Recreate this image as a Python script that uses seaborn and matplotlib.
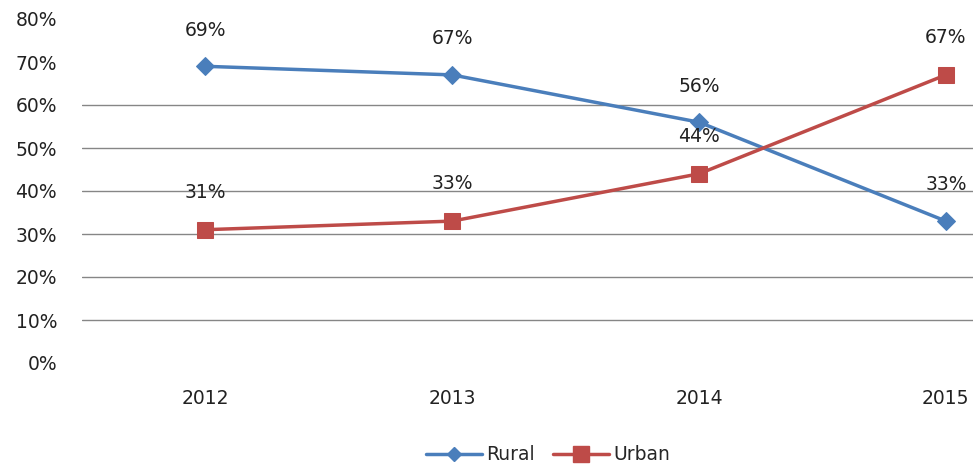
import matplotlib
matplotlib.use("Agg")
import matplotlib.pyplot as plt
import seaborn as sns
import pandas as pd
from matplotlib.lines import Line2D

years = ["2012", "2013", "2014", "2015"]
rural = [69, 67, 56, 33]
urban = [31, 33, 44, 67]
y_ticks = [0, 10, 20, 30, 40, 50, 60, 70, 80]

blue = "#4a7ebb"
red = "#be4b48"
text_color = "#222222"
fs = 13.5

sns.set_theme(style="white")
plt.rcParams["font.family"] = ["DejaVu Sans"]

df = pd.DataFrame({
    "pos": list(range(len(years))) * 2,
    "value": rural + urban,
    "series": ["Rural"] * len(years) + ["Urban"] * len(years),
})

fig = plt.figure(figsize=(9.73, 4.68), dpi=100)
ax = fig.add_axes([82 / 973, 1 - 363 / 468, 1 - 82 / 973, (363 - 19) / 468])

# horizontal gridlines
for t in y_ticks[1:7]:
    ax.axhline(t, color="#868686", lw=1.0, zorder=0)

sns.lineplot(data=df[df.series == "Rural"], x="pos", y="value", ax=ax,
             color=blue, lw=2.5, marker="D", markersize=9,
             markeredgecolor=blue, legend=False, zorder=3)
sns.lineplot(data=df[df.series == "Urban"], x="pos", y="value", ax=ax,
             color=red, lw=2.5, marker="s", markersize=12,
             markeredgecolor=red, legend=False, zorder=3)

for i, v in enumerate(rural):
    ax.annotate(f"{v}%", (i, v), xytext=(0, 26), textcoords="offset points",
                ha="center", va="center", fontsize=fs, color=text_color)
for i, v in enumerate(urban):
    ax.annotate(f"{v}%", (i, v), xytext=(0, 27), textcoords="offset points",
                ha="center", va="center", fontsize=fs, color=text_color)

ax.set_xlim(-0.5, 3.11)
ax.set_ylim(0, 80)
ax.set_xticks(range(len(years)))
ax.set_xticklabels(years)
ax.set_yticks(y_ticks)
ax.set_yticklabels([f"{t}%" for t in y_ticks])
ax.tick_params(axis="both", labelsize=fs, colors=text_color, length=0)
ax.tick_params(axis="y", pad=18)
ax.tick_params(axis="x", pad=19)
ax.set_xlabel("")
ax.set_ylabel("")
for s in ax.spines.values():
    s.set_visible(False)

handles = [
    Line2D([], [], color=blue, lw=2.5, marker="D", markersize=7),
    Line2D([], [], color=red, lw=2.5, marker="s", markersize=11),
]
fig.legend(handles, ["Rural", "Urban"], loc="center", bbox_to_anchor=(0.563, 1 - 455 / 468),
           ncol=2, frameon=False, fontsize=fs, handlelength=3, columnspacing=1.0,
           handletextpad=0.2)

fig.savefig("out.png", dpi=100, facecolor="white")
